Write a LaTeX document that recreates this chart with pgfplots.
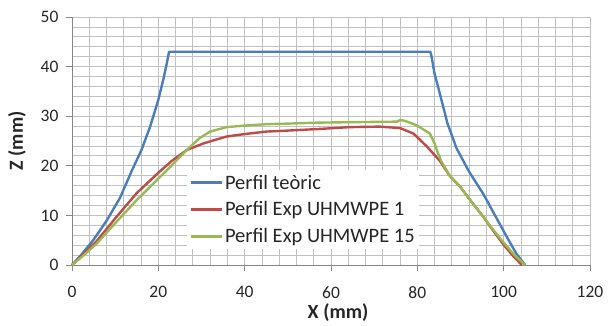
\documentclass[border=0pt]{standalone}
\usepackage{fontspec}
\setmainfont{Carlito}
\usepackage{pgfplots}
\pgfplotsset{compat=1.18}
\definecolor{cblue}{HTML}{4A7EBB}
\definecolor{cred}{HTML}{BE4B48}
\definecolor{cgreen}{HTML}{98B954}
\definecolor{gridc}{HTML}{C0C0C0}
\definecolor{axc}{HTML}{868686}
\definecolor{txt}{HTML}{262626}
\begin{document}
\begin{tikzpicture}
\begin{axis}[
  scale only axis,
  width=518pt, height=248pt,
  xmin=0, xmax=120, ymin=0, ymax=50,
  xtick={0,20,...,120}, ytick={0,10,...,50},
  minor xtick={0,4,...,120}, minor ytick={0,2,...,50},
  grid=both,
  major grid style={gridc, line width=0.8pt},
  minor grid style={gridc, line width=0.8pt},
  axis line style={axc, line width=0.8pt},
  axis x line*=bottom, axis y line*=left,
  tick style={axc, line width=0.8pt},
  major tick length=6pt, minor tick length=0pt,
  tick align=outside,
  /pgf/number format/assume math mode=true,
  ticklabel style={font=\fontsize{17.5}{20}\selectfont, text=txt},
  xticklabel style={yshift=-12pt},
  yticklabel style={xshift=-4pt},
  xlabel={\textbf{X (mm)}}, ylabel={\textbf{Z (mm)}},
  label style={font=\fontsize{20}{22}\selectfont, text=txt},
  xlabel style={at={(axis description cs:0.5,0)}, anchor=center, yshift=-48pt, xshift=7pt},
  ylabel style={at={(axis description cs:0,0.5)}, anchor=center, rotate=0, yshift=55pt},
  legend style={at={(axis cs:26.6,19.2)}, anchor=north west, draw=none, fill=white,
    font=\fontsize{20.5}{22}\selectfont, text=txt, row sep=7pt, inner xsep=2pt, inner ysep=3pt},
  legend cell align=left,
  legend image code/.code={\draw[#1, line width=3pt] (0pt,0pt) -- (31pt,0pt);},
  every axis plot/.append style={line width=2.4pt, line join=round},
  clip=false,
]
\addplot[cblue] coordinates {(0,0)(2,1.9)(5,5.1)(8,8.9)(11.1,13.5)(13.8,18.9)(16.1,23.2)(18.1,27.9)(20,33.3)(21.2,37.6)(21.8,40)(22.5,43)(83,43)(83.3,42)(84,38.5)(84.9,35.6)(87,28.5)(89.1,23.5)(92,18.8)(95.3,14.3)(98,10)(100.7,5.7)(103,2.2)(105,0)};
\addlegendentry{Perfil teòric}
\addplot[cred] coordinates {(0,0)(2.5,2.1)(5.7,4.8)(10.3,9.7)(15,14.5)(20,18.6)(23,20.9)(26.6,23.2)(30.4,24.5)(35.8,25.9)(40,26.4)(45,26.9)(50,27.1)(56.7,27.4)(64.4,27.8)(71.3,27.9)(76,27.6)(79.1,26.5)(82.2,23.9)(85.2,21)(87.5,18)(89.9,15.8)(92.5,12.8)(95.3,9.7)(97.5,7)(99.9,4.2)(102,2)(104.2,0)};
\addlegendentry{Perfil Exp UHMWPE 1}
\addplot[cgreen] coordinates {(0,0)(2.5,1.8)(5.7,4.3)(10.3,8.7)(15,13.1)(20,17.4)(23,20)(26.6,23.2)(29.6,25.6)(32,26.9)(35.8,27.8)(40,28.1)(45.1,28.4)(50,28.5)(56.7,28.7)(65,28.8)(75.2,28.9)(76,29.2)(77,29.1)(79.8,28.2)(82.9,26.5)(84,24.5)(84.5,23.2)(85.5,21)(87.5,18)(89.9,15.8)(92.5,12.8)(95.3,9.7)(97.5,7.2)(99.9,4.6)(102.5,2)(105,0)};
\addlegendentry{Perfil Exp UHMWPE 15}
\useasboundingbox ([xshift=-72pt,yshift=-58pt]rel axis cs:0,0) rectangle ([xshift=18pt,yshift=17pt]rel axis cs:1,1);
\end{axis}
\end{tikzpicture}
\end{document}
